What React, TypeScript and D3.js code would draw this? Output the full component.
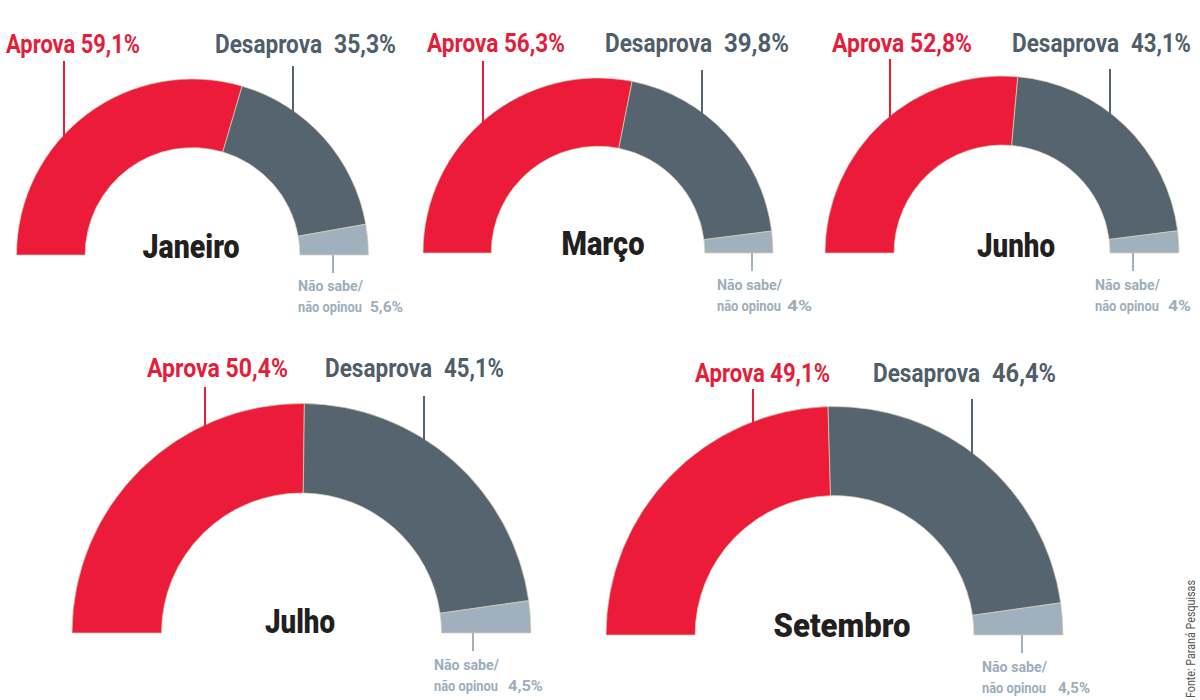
import React from "react";
import * as d3 from "d3";

const months = ["Janeiro", "Março", "Junho", "Julho", "Setembro"];
const aprova = [59.1, 56.3, 52.8, 50.4, 49.1];
const desaprova = [35.3, 39.8, 43.1, 45.1, 46.4];
const naoSabe = [5.6, 4, 4, 4.5, 4.5];
const source = "Fonte: Paraná Pesquisas";

// layout (positions and text widths only)
const layout = [
  { cx: 192.5, cy: 255, R: 176, topY: 53, aLX: 6, aW: 134, aLineX: 64, aTop: 61, dLX: 215, dNumW: 62, dLineX: 293, dTop: 66, nLineX: 333, nLX: 298, nY: 291, nNumOff: 72, nNumW: 33, mX: 191, mY: 258, mW: 97 },
  { cx: 598, cy: 253, R: 175, topY: 52, aLX: 427, aW: 138, aLineX: 483, aTop: 61, dLX: 605, dNumW: 65, dLineX: 702, dTop: 70, nLineX: 752, nLX: 717, nY: 290, nNumOff: 70, nNumW: 25, mX: 603, mY: 255, mW: 83 },
  { cx: 1002, cy: 253, R: 177, topY: 52, aLX: 832, aW: 140, aLineX: 890, aTop: 59, dLX: 1012, dNumW: 60, dLineX: 1110, dTop: 69, nLineX: 1133, nLX: 1095, nY: 290, nNumOff: 73, nNumW: 23, mX: 1016, mY: 257, mW: 78 },
  { cx: 301.5, cy: 633, R: 229.5, topY: 377, aLX: 147, aW: 141, aLineX: 205, aTop: 387, dLX: 325, dNumW: 60, dLineX: 424, dTop: 396, nLineX: 473, nLX: 434, nY: 670, nNumOff: 74, nNumW: 35, mX: 300, mY: 633, mW: 70 },
  { cx: 834.5, cy: 635, R: 228.5, topY: 382, aLX: 695, aW: 135, aLineX: 753, aTop: 389, dLX: 873, dNumW: 64, dLineX: 972, dTop: 399, nLineX: 1022, nLX: 982, nY: 672, nNumOff: 76, nNumW: 32, mX: 842, mY: 637, mW: 137 },
];

const RED = "#ED1B3A";
const DARK = "#56646F";
const LIGHT = "#A0B0BD";
const RED_T = "#E41E3A";
const DARK_T = "#4F5E69";
const LIGHT_T = "#9DAEBB";
const FONT = "Roboto, 'Liberation Sans', sans-serif";

const fmt = (v: number) => String(v).replace(".", ",") + "%";

const pie = d3
  .pie<number>()
  .sort(null)
  .value((d) => d)
  .startAngle(-Math.PI / 2)
  .endAngle(Math.PI / 2);

function T(props: any) {
  const { w, children, ...rest } = props;
  return (
    <text fontFamily={FONT} textLength={w} lengthAdjust="spacingAndGlyphs" {...rest}>
      {children}
    </text>
  );
}

function Gauge({ i }: { i: number }) {
  const L = layout[i];
  const values = [aprova[i], desaprova[i], naoSabe[i]];
  const colors = [RED, DARK, LIGHT];
  const arcs = pie(values);
  const arc = d3.arc<d3.PieArcDatum<number>>().innerRadius(L.R * 0.61).outerRadius(L.R);
  const yOnArc = (x: number) => L.cy - Math.sqrt(Math.max(0, L.R * L.R - (x - L.cx) * (x - L.cx)));
  return (
    <g>
      <g transform={`translate(${L.cx},${L.cy})`}>
        {arcs.map((a, k) => (
          <path key={k} d={arc(a) || ""} fill={colors[k]} stroke="#d9d3b4" strokeWidth={0.7} />
        ))}
      </g>
      <line x1={L.aLineX} x2={L.aLineX} y1={L.aTop} y2={yOnArc(L.aLineX) + 2} stroke={RED} strokeWidth={2} />
      <line x1={L.dLineX} x2={L.dLineX} y1={L.dTop} y2={yOnArc(L.dLineX) + 2} stroke={DARK} strokeWidth={2} />
      <line x1={L.nLineX} x2={L.nLineX} y1={L.cy} y2={L.cy + 18} stroke={LIGHT} strokeWidth={2} />
      <T x={L.aLX} y={L.topY} w={L.aW} fill={RED_T} fontWeight="bold" fontSize={25}>
        {"Aprova " + fmt(aprova[i])}
      </T>
      <T x={L.dLX} y={L.topY} w={107} fill={DARK_T} fontWeight="bold" fontSize={25}>
        Desaprova
      </T>
      <T x={L.dLX + 119} y={L.topY} w={L.dNumW} fill={DARK_T} fontWeight="bold" fontSize={25}>
        {fmt(desaprova[i])}
      </T>
      <T x={L.nLX} y={L.nY} w={65} fill={LIGHT_T} fontWeight="bold" fontSize={15}>
        Não sabe/
      </T>
      <T x={L.nLX} y={L.nY + 21} w={64} fill={LIGHT_T} fontWeight="bold" fontSize={15}>
        não opinou
      </T>
      <T x={L.nLX + L.nNumOff} y={L.nY + 21} w={L.nNumW} fill={LIGHT_T} fontWeight="bold" fontSize={15}>
        {fmt(naoSabe[i])}
      </T>
      <T x={L.mX - L.mW / 2} y={L.mY} w={L.mW} fill="#231F20" fontWeight={900} fontSize={33}>
        {months[i]}
      </T>
    </g>
  );
}

export default function App() {
  return (
    <svg width={1200} height={700} style={{ position: "absolute", left: 0, top: 0, background: "#fff" }}>
      <rect width={1200} height={700} fill="#fff" />
      {months.map((_, i) => (
        <Gauge key={i} i={i} />
      ))}
      <text
        transform="translate(1195,698) rotate(-90)"
        fill="#555"
        fontFamily={FONT}
        fontSize={12.5}
        textLength={118}
        lengthAdjust="spacingAndGlyphs"
      >
        {source}
      </text>
    </svg>
  );
}
